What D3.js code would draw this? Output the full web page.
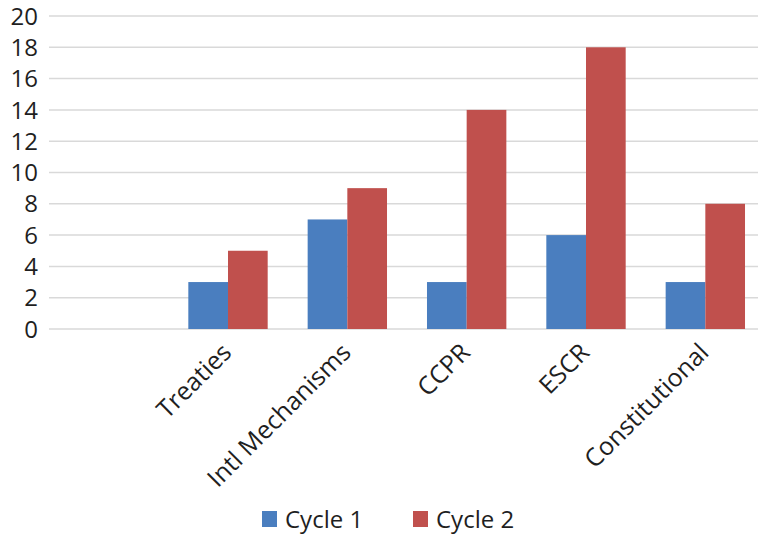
<!DOCTYPE html>
<html><head><meta charset="utf-8">
<script src="https://cdn.jsdelivr.net/npm/d3@7"></script>
<style>body{margin:0;background:#fff}svg{display:block}text{font-family:"Open Sans",sans-serif;fill:#1f1f1f}</style>
</head><body><svg id="c" width="758" height="536"></svg>
<script>
const categories = ["", "Treaties", "Intl Mechanisms", "CCPR", "ESCR", "Constitutional"];
const cycle1 = [null, 3, 7, 3, 6, 3];
const cycle2 = [null, 5, 9, 14, 18, 8];
const seriesNames = ["Cycle 1", "Cycle 2"];
const yTicks = [0, 2, 4, 6, 8, 10, 12, 14, 16, 18, 20];
const colors = ["#4A7EBF", "#C0504D"];

const svg = d3.select("#c");
const mLeft = 49, mRight = 765, mTop = 16, mBottom = 329;
const y = d3.scaleLinear().domain([0, 20]).range([mBottom, mTop]);
const x = d3.scaleBand().domain(categories.map((c,i)=>i)).range([mLeft, mRight]).paddingInner(0.335).paddingOuter(0.1675);
const sub = d3.scaleBand().domain([0,1]).range([0, x.bandwidth()]);

// gridlines
svg.append("g").selectAll("line").data(yTicks).join("line")
  .attr("x1", mLeft).attr("x2", mRight).attr("y1", d=>y(d)).attr("y2", d=>y(d))
  .attr("stroke", "#d9d9d9").attr("stroke-width", 1.5);

// y labels
svg.append("g").selectAll("text").data(yTicks).join("text")
  .attr("x", 38).attr("y", d=>y(d)).attr("dy", "0.36em").attr("text-anchor", "end")
  .attr("font-size", 24).text(d=>d);

// bars
const series = [cycle1, cycle2];
series.forEach((vals, s) => {
  svg.append("g").selectAll("rect").data(vals.map((v,i)=>({v,i})).filter(d=>d.v!=null)).join("rect")
    .attr("x", d=>x(d.i)+sub(s)).attr("width", sub.bandwidth())
    .attr("y", d=>y(d.v)).attr("height", d=>y(0)-y(d.v))
    .attr("fill", colors[s]);
});

// x labels
svg.append("g").selectAll("text").data(categories.map((c,i)=>({c,i})).filter(d=>d.c)).join("text")
  .attr("transform", d=>`translate(${x(d.i)+x.bandwidth()/2+5},${mBottom+25}) rotate(-45)`)
  .attr("text-anchor", "end").attr("font-size", 25).text(d=>d.c);

// legend
const leg = svg.append("g");
const lx = [262, 413];
seriesNames.forEach((n, i) => {
  leg.append("rect").attr("x", lx[i]).attr("y", 511).attr("width", 15).attr("height", 16).attr("fill", colors[i]);
  leg.append("text").attr("x", lx[i]+23).attr("y", 528).attr("font-size", 24).text(n);
});
</script></body></html>
